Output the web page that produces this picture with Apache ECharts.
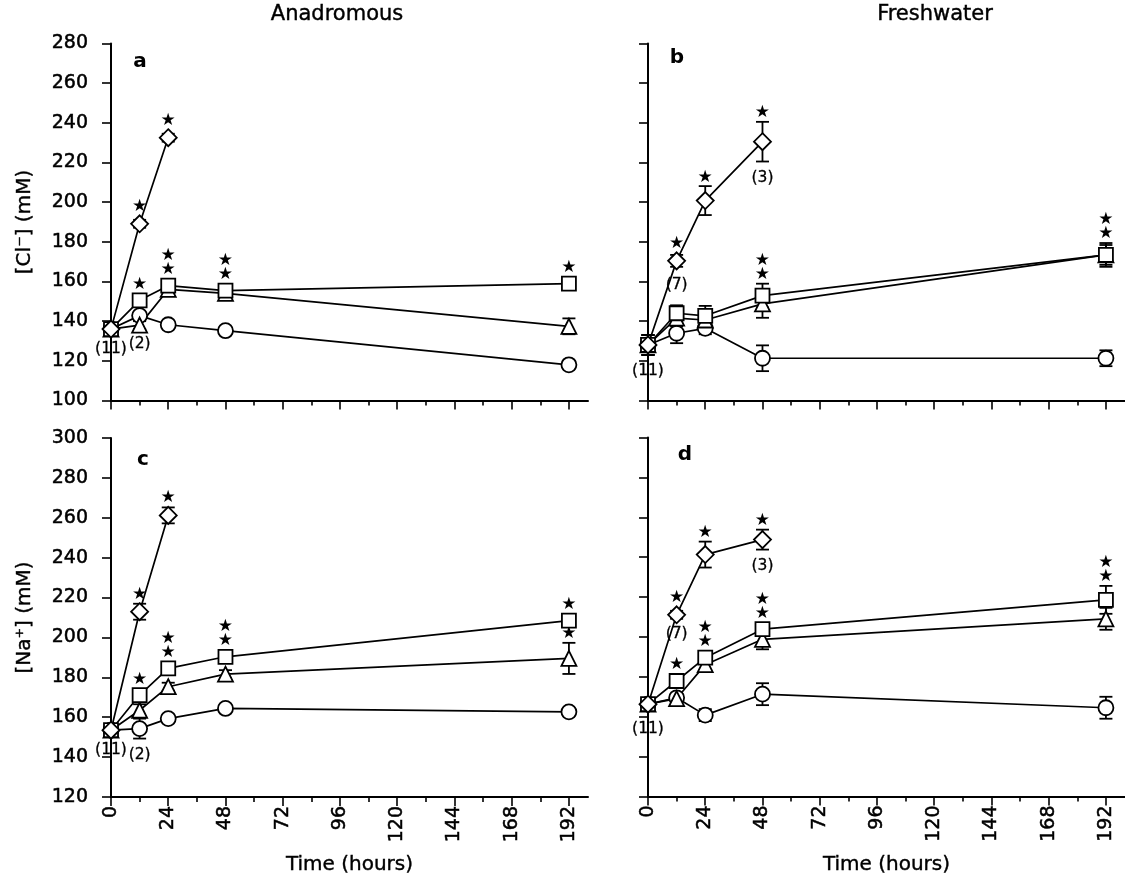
<!DOCTYPE html>
<html>
<head>
<meta charset="utf-8">
<script src="https://cdn.jsdelivr.net/npm/echarts@6/dist/echarts.min.js"></script>
<style>
  html, body { margin: 0; padding: 0; background: #fff; }
  #chart { width: 1125px; height: 888px; }
</style>
</head>
<body>
<div id="chart"></div>
<script>
// Sampling times (hours) and labelled x ticks
const hours = [0, 12, 24, 48, 192];
const xTicks = [0, 24, 48, 72, 96, 120, 144, 168, 192];

// ---- Plasma [Cl-], anadromous (panel a) ----
const clAnaCircle      = [136, 142.8, 138.2, 135.2, 118];
const clAnaCircleErr   = [2, 2, 2, 2, 2];
const clAnaTriangle    = [136, 138, 156, 154, 137.4];
const clAnaTriangleErr = [2, 2, 2, 2, 4];
const clAnaSquare      = [136, 150.5, 157.9, 155.4, 158.9];
const clAnaSquareErr   = [2, 2, 2, 2, 2];
const clAnaSquareSig   = [0, 1, 2, 2, 1];
const clAnaDiamond     = [136, 189.1, 232.5];
const clAnaDiamondErr  = [2, 2, 2];
const clAnaDiamondSig  = [0, 1, 1];
const clAnaDiamondN    = ['(11)', '', ''];
const clAnaTriangleN   = ['', '(2)', '', '', ''];

// ---- Plasma [Cl-], freshwater (panel b) ----
const clFwCircle       = [128, 133.9, 136.4, 121.3, 121.3];
const clFwCircleErr    = [5, 5, 3, 6.5, 4];
const clFwTriangle     = [128, 141.5, 140.6, 148.7, 173.4];
const clFwTriangleErr  = [5, 4, 4, 7, 5];
const clFwSquare       = [128, 144, 142.7, 152.9, 173.4];
const clFwSquareErr    = [5, 4, 5, 6, 6];
const clFwSquareSig    = [0, 0, 0, 2, 2];
const clFwDiamond      = [128, 170.4, 200.8, 230.5];
const clFwDiamondErr   = [5, 3, 7.3, 10];
const clFwDiamondSig   = [0, 1, 1, 1];
const clFwDiamondN     = ['(11)', '(7)', '', '(3)'];

// ---- Plasma [Na+], anadromous (panel c) ----
const naAnaCircle      = [153.5, 154.3, 159.3, 164.4, 162.7];
const naAnaCircleErr   = [2, 5, 2, 2, 2];
const naAnaCircleN     = ['', '(2)', '', '', ''];
const naAnaTriangle    = [153.5, 163.5, 175.3, 181.6, 189.5];
const naAnaTriangleErr = [2, 3, 2, 2, 7.8];
const naAnaTriangleSig = [0, 0, 0, 0, 1];
const naAnaSquare      = [153.5, 171.1, 184.5, 190.3, 208.4];
const naAnaSquareErr   = [2, 2, 2, 2, 3];
const naAnaSquareSig   = [0, 1, 2, 2, 1];
const naAnaDiamond     = [153.5, 212.9, 261.2];
const naAnaDiamondErr  = [2, 4, 4];
const naAnaDiamondSig  = [0, 1, 1];
const naAnaDiamondN    = ['(11)', '', ''];

// ---- Plasma [Na+], freshwater (panel d) ----
const naFwCircle       = [166.3, 169.5, 160.8, 171.3, 164.5];
const naFwCircleErr    = [2, 2, 3, 5.5, 5.5];
const naFwTriangle     = [166.3, 169.1, 186.1, 198.8, 209.1];
const naFwTriangleErr  = [2, 2, 3, 5, 5.5];
const naFwSquare       = [166.3, 177.9, 189.6, 203.9, 218.6];
const naFwSquareErr    = [2, 2, 3, 3, 7];
const naFwSquareSig    = [0, 1, 2, 2, 2];
const naFwDiamond      = [166.3, 211.1, 241.3, 248.8];
const naFwDiamondErr   = [3, 2, 6.5, 5];
const naFwDiamondSig   = [0, 1, 1, 1];
const naFwDiamondN     = ['(11)', '(7)', '', '(3)'];

const FONT = 'DejaVu Sans';
const BLACK = '#000';
const CAP = 6.5;
const LW = 1.8;

const SHAPES = {
  circle:   { symbol: 'circle',   size: 15 },
  triangle: { symbol: 'triangle', size: 15 },
  square:   { symbol: 'rect',     size: 14 },
  diamond:  { symbol: 'diamond',  size: 17 }
};

// Panel layout
const panels = [
  { grid: { left: 111, top: 43.5, width: 477, height: 357 }, y: [100, 280], yLabels: true,  xLabels: false, yName: '[Cl\u207B] (mM)' },
  { grid: { left: 648, top: 43.5, width: 477, height: 357 }, y: [100, 280], yLabels: false, xLabels: false, yName: '' },
  { grid: { left: 111, top: 438,  width: 477, height: 359 }, y: [120, 300], yLabels: true,  xLabels: true,  yName: '[Na\u207A] (mM)' },
  { grid: { left: 648, top: 437.5, width: 477, height: 359 }, y: [120, 300], yLabels: false, xLabels: true,  yName: '' }
];

const minorTicks = xTicks.slice(0, -1).map(v => v + 12);

const tickStyle = { color: BLACK, width: 1.6 };
const axisLineStyle = { color: BLACK, width: 2 };
const labelFont = { color: BLACK, fontFamily: FONT, fontSize: 19, textBorderColor: BLACK, textBorderWidth: 0.5 };
const nameFont = { color: BLACK, fontFamily: FONT, fontSize: 20, textBorderColor: BLACK, textBorderWidth: 0.4 };

const xAxis = [];
const yAxis = [];
panels.forEach((p, i) => {
  xAxis.push({
    gridIndex: i, type: 'value', min: 0, max: 200, position: 'bottom',
    axisLine: { show: true, onZero: false, lineStyle: axisLineStyle },
    axisTick: { show: true, inside: false, length: 9, lineStyle: tickStyle, customValues: xTicks },
    axisLabel: Object.assign({ show: p.xLabels, customValues: xTicks, rotate: 90, margin: 9 }, labelFont),
    splitLine: { show: false },
    name: p.xLabels ? 'Time (hours)' : '',
    nameLocation: 'middle', nameGap: 58, nameTextStyle: nameFont
  });
  yAxis.push({
    gridIndex: i, type: 'value', min: p.y[0], max: p.y[1], interval: 20, position: 'left',
    axisLine: { show: true, onZero: false, lineStyle: axisLineStyle },
    axisTick: { show: true, inside: false, length: 9, lineStyle: tickStyle },
    axisLabel: Object.assign({ show: p.yLabels, margin: 23 }, labelFont),
    splitLine: { show: false },
    name: p.yName, nameLocation: 'middle', nameGap: 76, nameRotate: 90, nameTextStyle: nameFont
  });
});
// Short intermediate ticks every 12 h
panels.forEach((p, i) => {
  xAxis.push({
    gridIndex: i, type: 'value', min: 0, max: 200, position: 'bottom',
    axisLine: { show: false },
    axisTick: { show: true, length: 5, lineStyle: tickStyle, customValues: minorTicks },
    axisLabel: { show: false, customValues: minorTicks },
    splitLine: { show: false }
  });
});

// One group = error bars / significance stars / sample sizes + line with markers
function group(panel, shape, ys, errs, sig, notes) {
  const sym = SHAPES[shape];
  const half = sym.size / 2;
  const anno = {
    type: 'custom', xAxisIndex: panel, yAxisIndex: panel, z: 2, silent: true,
    data: ys.map((y, i) => [hours[i], y, errs[i]]),
    renderItem(params, api) {
      const i = params.dataIndex;
      const x = api.value(0), y = api.value(1), e = api.value(2);
      const c = api.coord([x, y]);
      const yHi = api.coord([x, y + e])[1];
      const yLo = api.coord([x, y - e])[1];
      const st = { stroke: BLACK, lineWidth: LW };
      const kids = [];
      if (e > 0) {
        kids.push({ type: 'line', shape: { x1: c[0], y1: yHi, x2: c[0], y2: yLo }, style: st });
        kids.push({ type: 'line', shape: { x1: c[0] - CAP, y1: yHi, x2: c[0] + CAP, y2: yHi }, style: st });
        kids.push({ type: 'line', shape: { x1: c[0] - CAP, y1: yLo, x2: c[0] + CAP, y2: yLo }, style: st });
      }
      const top = Math.min(yHi, c[1] - half);
      const n = sig ? (sig[i] || 0) : 0;
      for (let k = 0; k < n; k++) {
        kids.push({ type: 'text', x: c[0], y: top - 9 - k * 14,
          style: { text: '\u2605', fill: BLACK, font: '17px "' + FONT + '"', align: 'center', verticalAlign: 'middle' } });
      }
      if (notes && notes[i]) {
        const below = Math.max(yLo, c[1] + half);
        kids.push({ type: 'text', x: c[0], y: below + (e > 2 ? 8 : 3),
          style: { text: notes[i], fill: BLACK, font: '15.5px "' + FONT + '"', align: 'center', verticalAlign: 'top',
                   stroke: BLACK, lineWidth: 0.3 } });
      }
      return { type: 'group', children: kids };
    }
  };
  const line = {
    type: 'line', xAxisIndex: panel, yAxisIndex: panel, z: 3, silent: true,
    data: ys.map((y, i) => [hours[i], y]),
    symbol: sym.symbol, symbolSize: sym.size, showAllSymbol: true,
    itemStyle: { color: '#fff', borderColor: BLACK, borderWidth: LW },
    lineStyle: { color: BLACK, width: 1.7 },
    emphasis: { disabled: true }
  };
  return [anno, line];
}

const series = [].concat(
  group(0, 'circle',   clAnaCircle,   clAnaCircleErr,   null, null),
  group(0, 'triangle', clAnaTriangle, clAnaTriangleErr, null, clAnaTriangleN),
  group(0, 'square',   clAnaSquare,   clAnaSquareErr,   clAnaSquareSig, null),
  group(0, 'diamond',  clAnaDiamond,  clAnaDiamondErr,  clAnaDiamondSig, clAnaDiamondN),

  group(1, 'circle',   clFwCircle,   clFwCircleErr,   null, null),
  group(1, 'triangle', clFwTriangle, clFwTriangleErr, null, null),
  group(1, 'square',   clFwSquare,   clFwSquareErr,   clFwSquareSig, null),
  group(1, 'diamond',  clFwDiamond,  clFwDiamondErr,  clFwDiamondSig, clFwDiamondN),

  group(2, 'circle',   naAnaCircle,   naAnaCircleErr,   null, naAnaCircleN),
  group(2, 'triangle', naAnaTriangle, naAnaTriangleErr, naAnaTriangleSig, null),
  group(2, 'square',   naAnaSquare,   naAnaSquareErr,   naAnaSquareSig, null),
  group(2, 'diamond',  naAnaDiamond,  naAnaDiamondErr,  naAnaDiamondSig, naAnaDiamondN),

  group(3, 'circle',   naFwCircle,   naFwCircleErr,   null, null),
  group(3, 'triangle', naFwTriangle, naFwTriangleErr, null, null),
  group(3, 'square',   naFwSquare,   naFwSquareErr,   naFwSquareSig, null),
  group(3, 'diamond',  naFwDiamond,  naFwDiamondErr,  naFwDiamondSig, naFwDiamondN)
);

const headFont = '21px "' + FONT + '"';
const letterFont = 'bold 20px "' + FONT + '"';
const headStyle = { font: headFont, fill: BLACK, align: 'center', verticalAlign: 'middle', stroke: BLACK, lineWidth: 0.4 };
const letterStyle = { font: letterFont, fill: BLACK, align: 'center', verticalAlign: 'middle' };
const graphic = [
  { type: 'text', x: 337, y: 15, style: Object.assign({ text: 'Anadromous' }, headStyle) },
  { type: 'text', x: 935, y: 15, style: Object.assign({ text: 'Freshwater' }, headStyle) },
  { type: 'text', x: 140, y: 62, style: Object.assign({ text: 'a' }, letterStyle) },
  { type: 'text', x: 677, y: 58, style: Object.assign({ text: 'b' }, letterStyle) },
  { type: 'text', x: 143, y: 460, style: Object.assign({ text: 'c' }, letterStyle) },
  { type: 'text', x: 685, y: 455, style: Object.assign({ text: 'd' }, letterStyle) }
];

const chart = echarts.init(document.getElementById('chart'), null, { renderer: 'canvas' });
chart.setOption({
  animation: false,
  backgroundColor: '#fff',
  grid: panels.map(p => Object.assign({ containLabel: false }, p.grid)),
  xAxis, yAxis, series, graphic
});
</script>
</body>
</html>
